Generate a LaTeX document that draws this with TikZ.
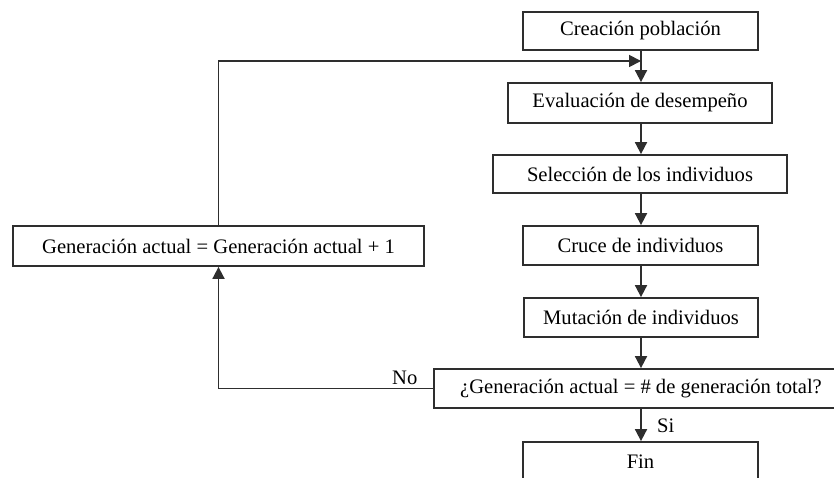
\documentclass[tikz,border=0pt]{standalone}
\usepackage{fontspec}
\setmainfont{Liberation Serif}
\usetikzlibrary{arrows.meta}
\definecolor{ln}{HTML}{2E2E2E}
\begin{document}
\begin{tikzpicture}[x=1pt,y=-1pt,
  box/.style={draw=ln,line width=1.8pt,rectangle,inner sep=0pt,font=\fontsize{20.6}{23}\selectfont,text=black},
  conn/.style={draw=ln,line width=1.8pt,-{Triangle[length=12pt,width=12pt]}},
  lbl/.style={font=\fontsize{20.6}{23}\selectfont,inner sep=0pt}]
\useasboundingbox (0,0) rectangle (834,478);
\clip (0,0) rectangle (834,478);
\node[box,minimum width=235pt,minimum height=38pt] (c1) at (640.5,31) {Creación población};
\node[box,minimum width=264pt,minimum height=40pt] (c2) at (640,103) {Evaluación de desempeño};
\node[box,minimum width=294pt,minimum height=38pt] (c3) at (640,174) {Selección de los individuos};
\node[box,minimum width=235pt,minimum height=39pt] (c4) at (640.5,245.5) {Cruce de individuos};
\node[box,minimum width=234pt,minimum height=39pt] (c5) at (641,317.5) {Mutación de individuos};
\node[box,minimum width=414pt,minimum height=39pt] (c6) at (641,388.5) {¿Generación actual = \# de generación total?};
\node[box,minimum width=235pt,minimum height=40pt] (c7) at (640.5,462) {Fin};
\node[box,minimum width=411pt,minimum height=40pt] (g) at (218.5,246) {Generación actual = Generación actual + 1};
\coordinate (m1) at (641,61);
\draw[conn] (c1.south -| m1) -- (c2.north -| m1);
\draw[conn] (c2.south -| m1) -- (c3.north -| m1);
\draw[conn] (c3.south -| m1) -- (c4.north -| m1);
\draw[conn] (c4.south -| m1) -- (c5.north -| m1);
\draw[conn] (c5.south -| m1) -- (c6.north -| m1);
\draw[conn] (c6.south -| m1) -- (c7.north -| m1);
\draw[conn] (g.north) |- (m1);
\draw[conn] (c6.west) -| (g.south);
\node[lbl,anchor=south west] (no) at (392,385) {No};
\node[lbl,anchor=west] (si) at (657,426) {Si};
\end{tikzpicture}
\end{document}
